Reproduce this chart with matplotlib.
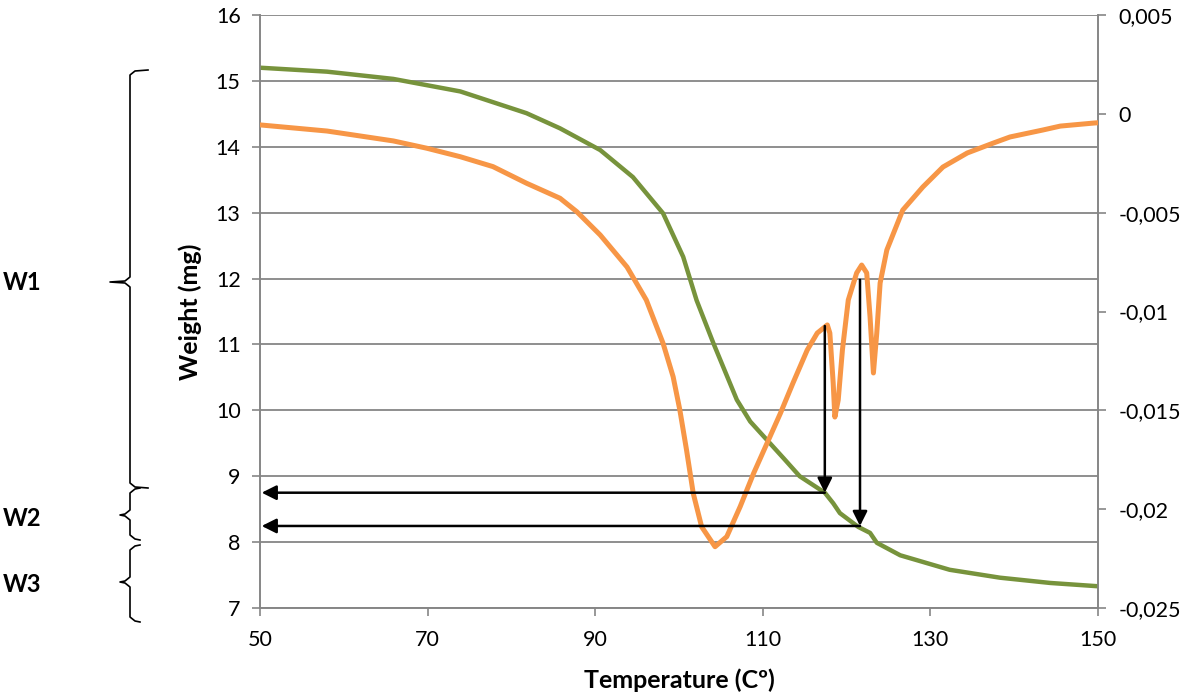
import matplotlib
matplotlib.use("Agg")
import matplotlib.pyplot as plt
from matplotlib.lines import Line2D

plt.rcParams['font.family'] = ['Lato', 'DejaVu Sans']

# weight curve (left axis, mg)
temp_w = [50, 58.0, 65.9, 73.9, 81.8, 85.8, 90.6, 94.5, 98.1, 100.5, 102.1, 104.1,
          106.9, 108.5, 110.5, 112.5, 114.4, 117.4, 118.4, 119.2, 121.4, 122.8,
          123.6, 126.4, 132.3, 138.3, 144.3, 150]
weight = [15.20, 15.14, 15.03, 14.84, 14.51, 14.28, 13.95, 13.54, 12.99, 12.33, 11.67, 11.02,
          10.16, 9.83, 9.55, 9.27, 9.00, 8.75, 8.59, 8.44, 8.23, 8.14,
          7.99, 7.80, 7.58, 7.46, 7.38, 7.33]

# derivative curve (right axis)
temp_d = [50, 58.0, 65.9, 69.9, 73.9, 77.8, 81.8, 85.8, 87.8, 90.6, 93.8, 96.1, 98.1,
          99.3, 100.1, 100.9, 101.7, 102.7, 104.3, 105.7, 107.3, 108.9, 110.5, 112.1,
          113.6, 115.3, 116.5, 117.7, 118.0, 118.4, 118.6, 119.0, 119.5, 120.2, 121.2,
          121.8, 122.4, 122.8, 123.2, 123.6, 124.0, 124.8, 126.7, 129.1, 131.5, 134.4,
          137.5, 139.5, 143.4, 145.5, 149.4, 150]
deriv = [-0.00056, -0.00087, -0.00137, -0.00174, -0.00217, -0.00267, -0.00351, -0.00427,
         -0.00495, -0.00613, -0.00775, -0.00942, -0.01161, -0.01330, -0.01498, -0.01701,
         -0.01920, -0.02089, -0.02190, -0.02139, -0.01987, -0.01819, -0.01667, -0.01515,
         -0.01362, -0.01195, -0.01109, -0.01068, -0.01109, -0.01362, -0.01534, -0.01448,
         -0.01195, -0.00942, -0.00805, -0.00765, -0.00805, -0.01028, -0.01311, -0.01109,
         -0.00856, -0.00689, -0.00487, -0.00370, -0.00269, -0.00198, -0.00148, -0.00117,
         -0.00082, -0.00062, -0.00047, -0.00045]

x_ticks = [50, 70, 90, 110, 130, 150]
left_ticks = list(range(7, 17))
right_ticks = [0.005, 0, -0.005, -0.01, -0.015, -0.02, -0.025]
right_labels = ["0,005", "0", "-0,005", "-0,01", "-0,015", "-0,02", "-0,025"]

# arrows (x, y_start, y_end) in weight units
v_arrows = [(117.4, 11.28, 8.75), (121.6, 11.98, 8.245)]

W = 1187
H = 698
fig = plt.figure(figsize=(W / 100, H / 100), dpi=100)
ax = fig.add_axes([260 / W, 1 - 608 / H, 838 / W, 593 / H])
ax2 = ax.twinx()

gray = "#868686"
ax.plot(temp_w, weight, color="#77933C", lw=3.2, zorder=3)
ax2.plot(temp_d, deriv, color="#F79646", lw=3.6, zorder=3)

ax.set_xlim(50, 150)
ax.set_ylim(7, 16)
ax2.set_ylim(-0.025, 0.005)
ax.set_xticks(x_ticks)
ax.set_yticks(left_ticks)
ax2.set_yticks(right_ticks)
ax2.set_yticklabels(right_labels)

ax.grid(axis="y", color=gray, lw=1.3)
ax.set_axisbelow(True)
for a in (ax, ax2):
    for s in a.spines.values():
        s.set_color(gray)
        s.set_linewidth(1.2)
    a.spines["top"].set_visible(False)
    a.tick_params(colors=gray, labelcolor="black", labelsize=15.5, length=6, width=1.2)
ax.tick_params(axis="x", pad=10)
ax.tick_params(axis="y", pad=8)
ax2.tick_params(axis="y", pad=9)

ax.set_xlabel("Temperature (Cº)", fontsize=18, fontweight="bold", labelpad=13)
ax.set_ylabel("Weight (mg)", fontsize=18, fontweight="bold", labelpad=10)

# arrows
for x, y0, y1 in v_arrows:
    ax2.annotate("", xy=(x, y1), xytext=(x, y0), xycoords=ax.transData, textcoords=ax.transData,
                 arrowprops=dict(arrowstyle="-|>", color="black", lw=1.8, mutation_scale=22,
                                 shrinkA=0, shrinkB=0), zorder=5)
    ax2.annotate("", xy=(50.2, y1), xytext=(x, y1), xycoords=ax.transData, textcoords=ax.transData,
                 arrowprops=dict(arrowstyle="-|>", color="black", lw=1.8, mutation_scale=22,
                                 shrinkA=0, shrinkB=0), zorder=5)


# curly braces in pixel coords
def fx(px):
    return px / W


def fy(py):
    return 1 - py / H


def brace(x, y0, ymid, y1, tip, hook):
    r = 5
    xs = [x + hook, x + r, x, x, x - r, tip, x - r, x, x, x + r, x + hook]
    ys = [y0, y0 + 1, y0 + r, ymid - r, ymid - 1, ymid, ymid + 1, ymid + r, y1 - r, y1 - 1, y1]
    fig.add_artist(Line2D([fx(v) for v in xs], [fy(v) for v in ys], color="black", lw=1.2))


brace(130, 70, 282, 488, 110, 18)
brace(130, 488, 515, 540, 120, 10)
brace(130, 545, 582, 622, 120, 10)

fig.text(fx(3), fy(283), "W1", fontsize=17, fontweight="bold", va="center", ha="left")
fig.text(fx(3), fy(518), "W2", fontsize=17, fontweight="bold", va="center", ha="left")
fig.text(fx(3), fy(585), "W3", fontsize=17, fontweight="bold", va="center", ha="left")

fig.savefig("out.png", dpi=100)
